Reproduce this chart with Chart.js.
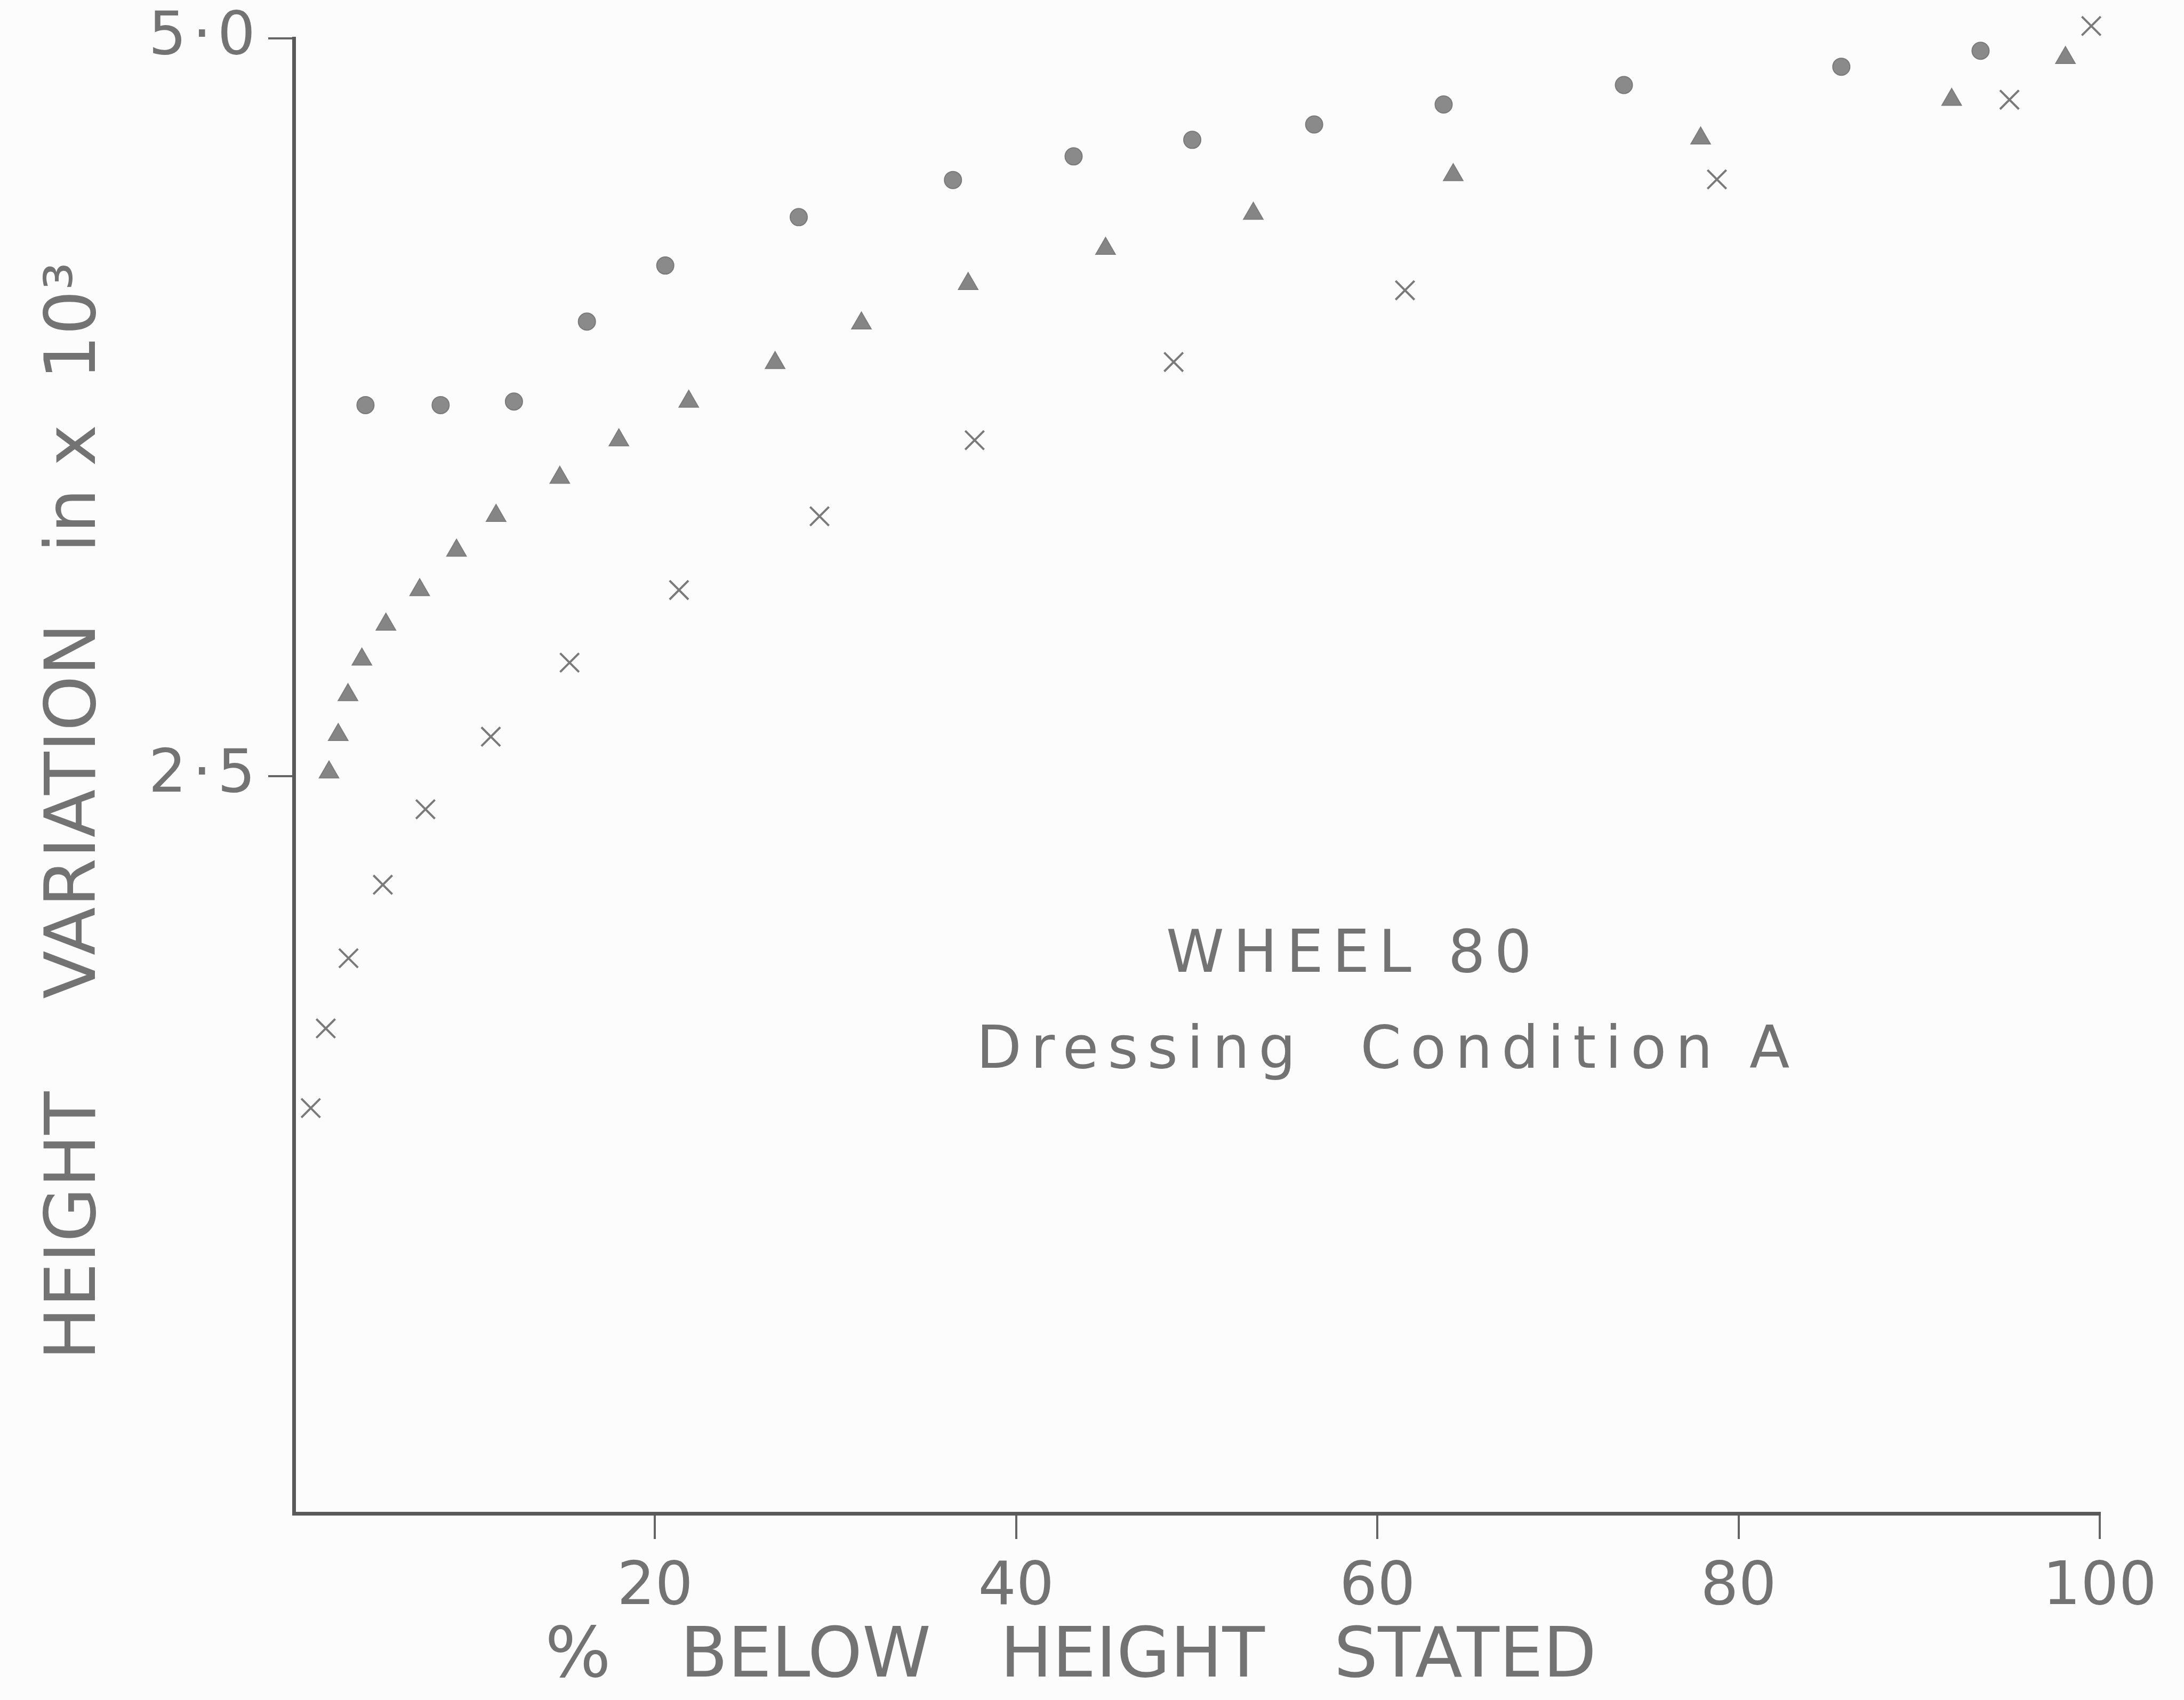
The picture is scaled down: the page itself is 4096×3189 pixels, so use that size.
<!DOCTYPE html>
<html>
<head>
<meta charset="utf-8">
<title>Wheel 80 – Dressing Condition A</title>
<script src="https://cdn.jsdelivr.net/npm/chart.js@4.4.1/dist/chart.umd.min.js"></script>
<style>
  html, body { margin: 0; padding: 0; background: #fcfcfc; overflow: hidden; }
  #wrap { width: 4096px; height: 3189px; position: relative; }
  canvas { display: block; }
</style>
</head>
<body>
<div id="wrap"><canvas id="chart" width="4096" height="3189"></canvas></div>
<script>
// Height variation (x 10^3 in) against % below height stated, three data series
const circlesX   = [3.97, 8.13, 12.19, 16.23, 20.57, 27.96, 36.5, 43.18, 49.75, 56.5, 63.67, 73.65, 85.69, 93.4];
const circlesY   = [3.757, 3.757, 3.769, 4.04, 4.23, 4.394, 4.52, 4.60, 4.656, 4.708, 4.776, 4.842, 4.904, 4.958];

const trianglesX = [1.95, 2.46, 3.0, 3.77, 5.1, 6.97, 9.01, 11.2, 14.73, 18.0, 21.87, 26.65, 31.43, 37.34, 44.95, 53.13, 64.2, 77.9, 91.8, 98.1];
const trianglesY = [2.512, 2.639, 2.774, 2.895, 3.013, 3.13, 3.264, 3.382, 3.511, 3.638, 3.769, 3.90, 4.034, 4.168, 4.287, 4.406, 4.537, 4.661, 4.792, 4.934];

const crossesX   = [0.94, 1.77, 3.03, 4.93, 7.29, 10.91, 15.27, 21.33, 29.11, 37.7, 48.72, 61.53, 78.8, 95.0, 99.53];
const crossesY   = [1.374, 1.644, 1.882, 2.131, 2.387, 2.633, 2.884, 3.13, 3.38, 3.638, 3.903, 4.146, 4.522, 4.792, 5.042];

const xTickValues = [20, 40, 60, 80, 100];
const xTickLabels = ['20', '40', '60', '80', '100'];
const yTickValues = [2.5, 5.0];
const yTickLabels = ['2\u200A·\u200A5', '5\u200A·\u200A0'];

const xTitle = '%\u2003BELOW\u2003HEIGHT\u2003STATED\u2003\u2003\u2003  ';
const yTitle = 'HEIGHT\u2003 VARIATION\u2003in x  10³\u2003';

const noteLines = [
  { text: 'WHEEL 80', x: 48.3, y: 1.836 },
  { text: 'Dressing  Condition A', x: 37.8, y: 1.511 }
];

const FONT = '"DejaVu Sans", "Liberation Sans", sans-serif';
const INK = '#737373';
const AXIS = '#5a5a5a';

const toPoints = (xs, ys) => xs.map((v, i) => ({ x: v, y: ys[i] }));

// Caption text placed inside the plot using the chart's own scales
const notePlugin = {
  id: 'wheelNote',
  afterDatasetsDraw(chart) {
    const { ctx, scales: { x, y } } = chart;
    ctx.save();
    ctx.fillStyle = INK;
    ctx.font = '110px ' + FONT;
    ctx.letterSpacing = '17px';
    ctx.textAlign = 'left';
    ctx.textBaseline = 'alphabetic';
    noteLines.forEach(l => ctx.fillText(l.text, x.getPixelForValue(l.x), y.getPixelForValue(l.y)));
    ctx.restore();
  }
};

const tickGrid = {
  drawOnChartArea: false,
  drawTicks: true,
  tickLength: 48,
  color: '#666666',
  lineWidth: 4
};

// keep the plot frame exactly where the layout padding puts it
const noEdgePadding = s => {
  s.paddingTop = 0; s.paddingBottom = 0; s.paddingLeft = 0; s.paddingRight = 0;
};

new Chart(document.getElementById('chart'), {
  type: 'scatter',
  data: {
    datasets: [
      {
        label: 'circles',
        data: toPoints(circlesX, circlesY),
        pointStyle: 'circle',
        pointRadius: 16,
        backgroundColor: '#8a8a8a',
        borderColor: '#7a7a7a',
        borderWidth: 2,
        clip: false
      },
      {
        label: 'triangles',
        data: toPoints(trianglesX, trianglesY),
        pointStyle: 'triangle',
        pointRadius: 21,
        backgroundColor: '#858585',
        borderColor: '#7d7d7d',
        borderWidth: 2,
        clip: false
      },
      {
        label: 'crosses',
        data: toPoints(crossesX, crossesY),
        pointStyle: 'crossRot',
        pointRadius: 25,
        backgroundColor: '#7a7a7a',
        borderColor: '#7a7a7a',
        borderWidth: 4,
        clip: false
      }
    ]
  },
  options: {
    responsive: false,
    devicePixelRatio: 1,
    animation: false,
    layout: { padding: { left: 0, right: 158, top: 72, bottom: 0 } },
    plugins: { legend: { display: false }, tooltip: { enabled: false } },
    scales: {
      x: {
        type: 'linear',
        position: 'bottom',
        min: 0,
        max: 100,
        afterBuildTicks: s => { s.ticks = xTickValues.map(v => ({ value: v })); },
        afterFit: s => { s.height = 350; noEdgePadding(s); },
        ticks: {
          autoSkip: false,
          maxRotation: 0,
          padding: 26,
          color: INK,
          font: { family: FONT, size: 112 },
          callback: (v, i) => xTickLabels[i]
        },
        grid: tickGrid,
        border: { display: true, color: AXIS, width: 7 },
        title: {
          display: true,
          text: xTitle,
          color: INK,
          font: { family: FONT, size: 130 },
          padding: { top: 0, bottom: 0 }
        }
      },
      y: {
        type: 'linear',
        position: 'left',
        min: 0,
        max: 5,
        afterBuildTicks: s => { s.ticks = yTickValues.map(v => ({ value: v })); },
        afterFit: s => { s.width = 551; noEdgePadding(s); },
        ticks: {
          autoSkip: false,
          padding: 24,
          color: INK,
          font: { family: FONT, size: 112 },
          callback: (v, i) => yTickLabels[i]
        },
        grid: tickGrid,
        border: { display: true, color: AXIS, width: 7 },
        title: {
          display: true,
          text: yTitle,
          color: INK,
          font: { family: FONT, size: 132 },
          padding: { top: 65, bottom: 0 }
        }
      }
    }
  },
  plugins: [notePlugin]
});
</script>
</body>
</html>
